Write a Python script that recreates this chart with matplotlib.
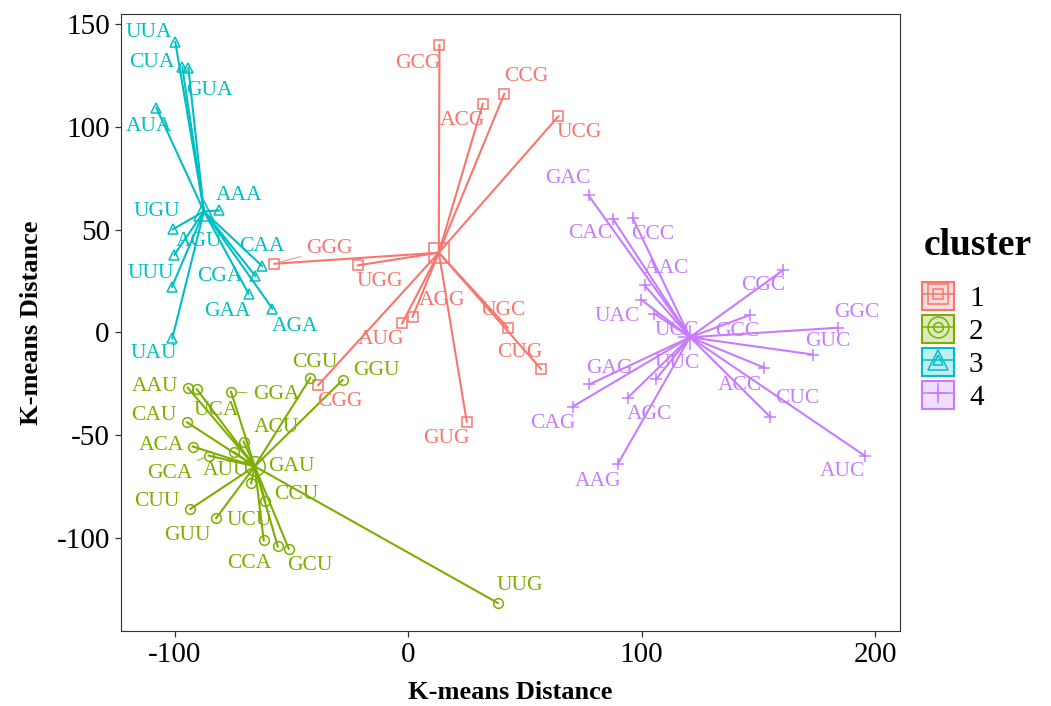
import numpy as np
import matplotlib
matplotlib.use("Agg")
import matplotlib.pyplot as plt
from matplotlib.patches import Patch
from matplotlib.lines import Line2D
from matplotlib.legend_handler import HandlerTuple
from matplotlib.colors import to_rgba

plt.rcParams['font.family'] = ['Liberation Serif', 'DejaVu Serif']
plt.rcParams['axes.unicode_minus'] = False

# cluster 1
c1_codons = ["GCG", "CCG", "ACG", "UCG", "GGG", "UGG", "AGG", "AUG", "UGC", "CUG", "CGG", "GUG"]
c1_x = [13.3, 41.1, 31.9, 64.3, -57.4, -21.7, 1.8, -2.7, 42.6, 56.9, -38.6, 25.0]
c1_y = [139.6, 115.9, 111.0, 105.0, 33.4, 32.6, 7.6, 4.4, 2.3, -17.8, -25.5, -43.3]

# cluster 2
c2_codons = ["CGU", "GGU", "AAU", "UCA", "GGA", "CAU", "ACU", "ACA", "GCA", "AUU",
             "GAU", "CUU", "CCU", "GUU", "UCU", "CCA", "GCU", "UUG"]
c2_x = [-42.0, -28.2, -94.6, -90.7, -76.0, -94.9, -70.6, -92.4, -85.6, -74.6,
        -67.4, -93.4, -61.4, -82.4, -62.0, -56.0, -51.3, 38.3]
c2_y = [-22.0, -23.1, -26.8, -27.5, -28.8, -43.6, -53.0, -55.4, -59.8, -58.2,
        -73.2, -85.7, -81.8, -90.2, -101.0, -103.9, -105.0, -131.4]

# cluster 3
c3_codons = ["UUA", "CUA", "GUA", "AUA", "AAA", "UGU", "AGU", "UUU", "CAA", "CGA", "GAA", "AGA", "UAU"]
c3_x = [-99.9, -96.9, -94.3, -108.0, -81.0, -101.0, -100.3, -101.3, -62.7, -65.6, -68.5, -58.3, -101.2]
c3_y = [141.1, 128.9, 128.5, 109.1, 59.3, 50.1, 37.8, 22.2, 32.3, 27.5, 18.9, 11.6, -2.9]

# cluster 4
c4_codons = ["GAC", "CAC", "CCC", "AAC", "UAC", "UCC", "CGC", "GCC", "GGC", "GUC",
             "GAG", "UUC", "CAG", "AGC", "ACC", "CUC", "AAG", "AUC"]
c4_x = [77.2, 87.6, 96.1, 101.2, 99.7, 105.4, 160.5, 146.2, 184.0, 173.3,
        77.6, 106.2, 70.4, 94.0, 152.6, 155.0, 89.7, 195.5]
c4_y = [66.6, 55.3, 55.6, 22.9, 16.0, 9.2, 30.2, 8.4, 2.3, -10.7,
        -25.2, -22.6, -36.0, -31.7, -17.1, -40.9, -64.0, -59.8]

# label offsets (pixels) -- hand placed like ggrepel did
label_offsets = {
    "UUA": (-26, 10), "CUA": (-30, 5), "GUA": (21, -23), "AUA": (-7, -19), "AAA": (20, 15),
    "UGU": (-16, 18), "AGU": (25, 13), "UUU": (-21, 13), "CAA": (0, 19), "CGA": (-36, -1),
    "GAA": (-21, -18), "AGA": (23, -18), "UAU": (-18, -15),
    "GCG": (-22, -18), "CCG": (22, 17), "ACG": (-20, -17), "UCG": (21, -16), "GGG": (55, 15),
    "UGG": (22, -16), "AGG": (29, 16), "AUG": (-21, -16), "UGC": (-5, 17), "CUG": (-21, 17),
    "CGG": (21, -17), "GUG": (-20, -17),
    "CGU": (4, 15), "GGU": (34, 10), "AAU": (-33, 1), "UCA": (20, -21), "GGA": (45, -3),
    "CAU": (-33, 7), "ACU": (33, 14), "ACA": (-31, 1), "GCA": (-39, -18), "AUU": (-8, -18),
    "GAU": (40, 17), "CUU": (-34, 7), "CCU": (31, 6), "GUU": (-29, -17), "UCU": (-14, 20),
    "CCA": (-28, -17), "GCU": (21, -17), "UUG": (22, 17),
    "GAC": (-21, 17), "CAC": (-23, -15), "CCC": (20, -16), "AAC": (22, 17), "UAC": (-24, -17),
    "UCC": (22, -17), "CGC": (-20, -15), "GCC": (-12, -16), "GGC": (19, 15), "GUC": (15, 13),
    "GAG": (20, 16), "UUC": (21, 16), "CAG": (-20, -17), "AGC": (22, -17), "ACC": (-25, -18),
    "CUC": (27, 18), "AAG": (-20, -17), "AUC": (-22, -16),
}
seg_labels = {"GGG", "GGA", "GCA"}

clusters = [
    ("1", c1_codons, c1_x, c1_y, "#F8766D", "s"),
    ("2", c2_codons, c2_x, c2_y, "#7CAE00", "o"),
    ("3", c3_codons, c3_x, c3_y, "#00BFC4", "^"),
    ("4", c4_codons, c4_x, c4_y, "#C77CFF", "+"),
]

fig = plt.figure(figsize=(10.51, 7.06), dpi=100)
ax = fig.add_axes([0.1151, 0.1062, 0.7412, 0.874])

handles = []
for name, codons, xs, ys, col, mk in clusters:
    xs = np.asarray(xs); ys = np.asarray(ys)
    cx, cy = xs.mean(), ys.mean()
    for x, y in zip(xs, ys):
        ax.plot([cx, x], [cy, y], color=col, lw=1.5, zorder=2)
    ms = 9 if mk == "+" else 7
    ax.plot(xs, ys, ls="none", marker=mk, ms=ms, mfc="none", mec=col, mew=1.1, zorder=3)
    ax.plot([cx], [cy], ls="none", marker=mk, ms=ms * 2, mfc="none", mec=col, mew=1.1, zorder=3)
    for c, x, y in zip(codons, xs, ys):
        dx, dy = label_offsets[c]
        ap = None
        if c in seg_labels:
            ap = dict(arrowstyle="-", color=col, lw=0.6, shrinkA=2, shrinkB=4)
        ax.annotate(c, (x, y), xytext=(dx, dy), textcoords="offset pixels",
                    ha="center", va="center", fontsize=15.5, color=col,
                    arrowprops=ap, zorder=4)
    handles.append((
        Patch(facecolor=to_rgba(col, 0.25), edgecolor=col, lw=1.5),
        Line2D([], [], color=col, lw=1.1, marker=mk, ms=15, mfc="none", mec=col, mew=1.1),
        Line2D([], [], ls="none", marker=mk, ms=7, mfc="none", mec=col, mew=1.1),
    ))

allx = np.concatenate([c1_x, c2_x, c3_x, c4_x])
ally = np.concatenate([c1_y, c2_y, c3_y, c4_y])
px = 0.05 * (allx.max() - allx.min())
py = 0.05 * (ally.max() - ally.min())
ax.set_xlim(allx.min() - px, allx.max() + px)
ax.set_ylim(ally.min() - py, ally.max() + py)

ax.set_xticks([-100, 0, 100, 200])
ax.set_yticks([-100, -50, 0, 50, 100, 150])
ax.tick_params(labelsize=21, length=4, width=0.9, color="#333333", labelcolor="black", pad=4)
for s in ax.spines.values():
    s.set_color("#333333")
    s.set_linewidth(0.8)

ax.set_xlabel("K-means Distance", fontsize=19, fontweight="bold", labelpad=9)
ax.set_ylabel("K-means Distance", fontsize=19, fontweight="bold", labelpad=10)

fig.text(0.879, 0.652, "cluster", fontsize=27, fontweight="bold", ha="left", va="center")
leg = fig.legend(handles, [c[0] for c in clusters],
                 handler_map={tuple: HandlerTuple(ndivide=1, pad=0)},
                 loc="upper left", bbox_to_anchor=(0.877, 0.601), frameon=False,
                 fontsize=21, handlelength=1.12, handleheight=1.12, labelspacing=0.1,
                 handletextpad=0.5, borderpad=0, borderaxespad=0)

fig.savefig("out.png", dpi=100)
